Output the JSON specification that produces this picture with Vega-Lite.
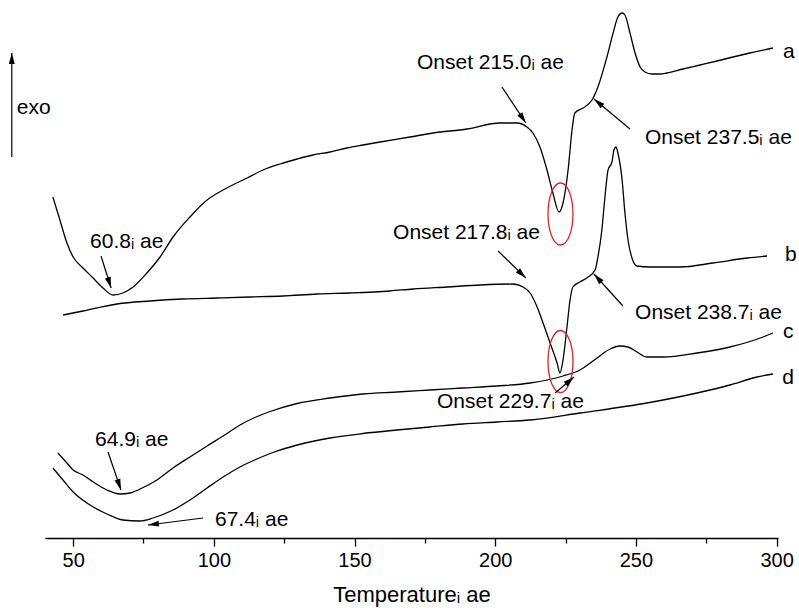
{
  "$schema": "https://vega.github.io/schema/vega-lite/v6.json",
  "width": 733,
  "height": 538,
  "autosize": {"type": "none"},
  "padding": {"left": 45, "right": 21, "top": 0, "bottom": 70},
  "background": "white",
  "config": {"view": {"stroke": null}},
  "datasets": {
    "curves": [
      {"c":"a","T":42.8,"v":341},{"c":"a","T":45.3,"v":318},{"c":"a","T":47.8,"v":295},{"c":"a","T":50.0,"v":281},{"c":"a","T":53.5,"v":270},{"c":"a","T":57.1,"v":260},{"c":"a","T":60.6,"v":250},{"c":"a","T":64.2,"v":243},{"c":"a","T":67.7,"v":245},{"c":"a","T":71.3,"v":251},{"c":"a","T":76.2,"v":265},{"c":"a","T":80.9,"v":281},{"c":"a","T":85.5,"v":301},{"c":"a","T":91.5,"v":321},{"c":"a","T":97.6,"v":338},{"c":"a","T":103.3,"v":348},{"c":"a","T":106.0,"v":352},{"c":"a","T":111.8,"v":360},{"c":"a","T":117.5,"v":368},{"c":"a","T":123.5,"v":374},{"c":"a","T":129.6,"v":379},{"c":"a","T":135.2,"v":383},{"c":"a","T":141.3,"v":386},{"c":"a","T":147.3,"v":390},{"c":"a","T":153.0,"v":393},{"c":"a","T":159.1,"v":396},{"c":"a","T":169.7,"v":401},{"c":"a","T":177.9,"v":405},{"c":"a","T":190.0,"v":409},{"c":"a","T":201.7,"v":415},{"c":"a","T":207.7,"v":415},{"c":"a","T":211.3,"v":411},{"c":"a","T":213.4,"v":405},{"c":"a","T":215.9,"v":391},{"c":"a","T":218.4,"v":368},{"c":"a","T":220.5,"v":345},{"c":"a","T":222.7,"v":326},{"c":"a","T":224.1,"v":335},{"c":"a","T":225.9,"v":368},{"c":"a","T":227.3,"v":408},{"c":"a","T":228.3,"v":425},{"c":"a","T":231.2,"v":430},{"c":"a","T":234.4,"v":438},{"c":"a","T":236.5,"v":451},{"c":"a","T":239.7,"v":481},{"c":"a","T":241.9,"v":505},{"c":"a","T":243.6,"v":521},{"c":"a","T":245.1,"v":525},{"c":"a","T":246.1,"v":523},{"c":"a","T":247.9,"v":505},{"c":"a","T":249.7,"v":485},{"c":"a","T":251.5,"v":471},{"c":"a","T":253.2,"v":466},{"c":"a","T":255.7,"v":464},{"c":"a","T":258.6,"v":464},{"c":"a","T":261.0,"v":465},{"c":"a","T":266.7,"v":469},{"c":"a","T":272.8,"v":473},{"c":"a","T":278.8,"v":477},{"c":"a","T":284.5,"v":481},{"c":"a","T":290.5,"v":485},{"c":"a","T":298.7,"v":490},
      {"c":"b","T":46.4,"v":223},{"c":"b","T":53.5,"v":227},{"c":"b","T":65.6,"v":234},{"c":"b","T":77.3,"v":237},{"c":"b","T":89.0,"v":239},{"c":"b","T":101.1,"v":240},{"c":"b","T":112.9,"v":241},{"c":"b","T":124.6,"v":242},{"c":"b","T":136.7,"v":244},{"c":"b","T":148.4,"v":245},{"c":"b","T":162.6,"v":247},{"c":"b","T":170.8,"v":249},{"c":"b","T":182.9,"v":251},{"c":"b","T":194.6,"v":253},{"c":"b","T":206.3,"v":254},{"c":"b","T":209.9,"v":251},{"c":"b","T":212.4,"v":245},{"c":"b","T":214.9,"v":231},{"c":"b","T":217.0,"v":215},{"c":"b","T":219.5,"v":195},{"c":"b","T":222.0,"v":175},{"c":"b","T":223.0,"v":165},{"c":"b","T":224.1,"v":178},{"c":"b","T":225.5,"v":211},{"c":"b","T":226.6,"v":238},{"c":"b","T":227.6,"v":251},{"c":"b","T":230.1,"v":256},{"c":"b","T":233.0,"v":261},{"c":"b","T":235.5,"v":268},{"c":"b","T":236.5,"v":281},{"c":"b","T":237.9,"v":308},{"c":"b","T":239.0,"v":341},{"c":"b","T":240.1,"v":368},{"c":"b","T":241.5,"v":376},{"c":"b","T":242.2,"v":388},{"c":"b","T":242.9,"v":391},{"c":"b","T":243.6,"v":385},{"c":"b","T":245.1,"v":358},{"c":"b","T":246.1,"v":325},{"c":"b","T":247.2,"v":298},{"c":"b","T":248.6,"v":280},{"c":"b","T":250.4,"v":272},{"c":"b","T":255.0,"v":271},{"c":"b","T":265.7,"v":271},{"c":"b","T":277.4,"v":275},{"c":"b","T":289.5,"v":280},{"c":"b","T":296.6,"v":282},
      {"c":"c","T":44.6,"v":85},{"c":"c","T":47.8,"v":75},{"c":"c","T":50.0,"v":68},{"c":"c","T":53.5,"v":63},{"c":"c","T":57.1,"v":56},{"c":"c","T":62.0,"v":48},{"c":"c","T":66.7,"v":44},{"c":"c","T":70.2,"v":45},{"c":"c","T":73.8,"v":49},{"c":"c","T":79.8,"v":58},{"c":"c","T":85.5,"v":70},{"c":"c","T":91.5,"v":81},{"c":"c","T":97.6,"v":92},{"c":"c","T":103.3,"v":102},{"c":"c","T":109.3,"v":113},{"c":"c","T":114.6,"v":120.5},{"c":"c","T":120.0,"v":126.5},{"c":"c","T":129.6,"v":134.5},{"c":"c","T":141.3,"v":140},{"c":"c","T":153.0,"v":144},{"c":"c","T":165.1,"v":146},{"c":"c","T":176.8,"v":148},{"c":"c","T":188.5,"v":150},{"c":"c","T":200.6,"v":152},{"c":"c","T":212.4,"v":155},{"c":"c","T":224.1,"v":162},{"c":"c","T":230.1,"v":168},{"c":"c","T":236.2,"v":180},{"c":"c","T":240.8,"v":189},{"c":"c","T":244.3,"v":192},{"c":"c","T":247.2,"v":191},{"c":"c","T":250.4,"v":186},{"c":"c","T":253.9,"v":181},{"c":"c","T":259.6,"v":181},{"c":"c","T":271.7,"v":185},{"c":"c","T":283.4,"v":191},{"c":"c","T":295.2,"v":201},{"c":"c","T":298.7,"v":205},
      {"c":"d","T":42.8,"v":70},{"c":"d","T":46.4,"v":58},{"c":"d","T":50.0,"v":46},{"c":"d","T":56.0,"v":33},{"c":"d","T":62.0,"v":24},{"c":"d","T":67.7,"v":18},{"c":"d","T":73.8,"v":17},{"c":"d","T":78.4,"v":20},{"c":"d","T":85.5,"v":28},{"c":"d","T":91.5,"v":38},{"c":"d","T":97.6,"v":50},{"c":"d","T":103.3,"v":61},{"c":"d","T":109.3,"v":71},{"c":"d","T":115.3,"v":79},{"c":"d","T":121.0,"v":85.5},{"c":"d","T":129.6,"v":93},{"c":"d","T":141.3,"v":100},{"c":"d","T":153.0,"v":104.5},{"c":"d","T":165.1,"v":108},{"c":"d","T":176.8,"v":111},{"c":"d","T":188.5,"v":114},{"c":"d","T":200.6,"v":116},{"c":"d","T":212.4,"v":118},{"c":"d","T":230.1,"v":125},{"c":"d","T":253.9,"v":135},{"c":"d","T":271.7,"v":145},{"c":"d","T":283.4,"v":153},{"c":"d","T":293.0,"v":161},{"c":"d","T":298.7,"v":164}
    ],
    "arrows": [
      {"T":59.9,"v":282,"T2":63.5,"v2":250},
      {"T":202.4,"v":451,"T2":210.9,"v2":415},
      {"T":247.9,"v":409,"T2":235.1,"v2":439},
      {"T":201.0,"v":287,"T2":210.9,"v2":260},
      {"T":245.4,"v":232,"T2":235.1,"v2":264},
      {"T":221.3,"v":145,"T2":228.0,"v2":161},
      {"T":62.4,"v":86,"T2":67.0,"v2":48},
      {"T":96.2,"v":20,"T2":76.6,"v2":13},
      {"T":28.2,"v":381,"T2":28.2,"v2":485}
    ],
    "ellipses": [
      {"T":223.2,"v":324},
      {"T":223.2,"v":176.5}
    ],
    "labels": [
      {"t":"Onset 215.0ᵢ ae","T":172.2,"v":475},
      {"t":"Onset 237.5ᵢ ae","T":253.2,"v":400},
      {"t":"Onset 217.8ᵢ ae","T":163.7,"v":305},
      {"t":"Onset 238.7ᵢ ae","T":249.7,"v":225},
      {"t":"Onset 229.7ᵢ ae","T":179.3,"v":136},
      {"t":"60.8ᵢ ae","T":56.0,"v":296},
      {"t":"64.9ᵢ ae","T":57.8,"v":98},
      {"t":"67.4ᵢ ae","T":100.4,"v":18},
      {"t":"a","T":302.3,"v":486},
      {"t":"b","T":303.0,"v":283},
      {"t":"c","T":302.3,"v":206},
      {"t":"d","T":302.0,"v":160},
      {"t":"exo","T":30.0,"v":430}
    ]
  },
  "layer": [
    {
      "data": {"name": "curves"},
      "mark": {"type": "line", "color": "black", "strokeWidth": 1.3, "interpolate": "monotone"},
      "encoding": {
        "x": {"field": "T", "type": "quantitative",
              "scale": {"domain": [40, 300.5], "nice": false, "zero": false},
              "axis": {
                "values": [50,75,100,125,150,175,200,225,250,275,300],
                "labelExpr": "datum.value % 50 === 0 ? datum.label : ''",
                "tickSize": {"condition": {"test": "datum.value % 50 === 0", "value": 8}, "value": 5},
                "tickColor": "black", "tickWidth": 1.3,
                "domainColor": "black", "domainWidth": 1.5,
                "grid": false, "labelFlush": false, "labelOverlap": false,
                "labelFont": "Liberation Sans", "labelFontSize": 20, "labelColor": "black", "labelPadding": 4,
                "title": "Temperatureᵢ ae", "titleFont": "Liberation Sans", "titleFontSize": 22,
                "titleFontWeight": "normal", "titleColor": "black", "titlePadding": 14
              }},
        "y": {"field": "v", "type": "quantitative", "scale": {"domain": [0, 538], "nice": false, "zero": false}, "axis": null},
        "detail": {"field": "c"}
      }
    },
    {
      "data": {"name": "ellipses"},
      "mark": {"type": "point", "filled": false, "color": "#e32228", "strokeWidth": 1.3, "opacity": 1, "size": 3844,
               "shape": "M-0.403,0 A0.403,1 0 1,1 0.403,0 A0.403,1 0 1,1 -0.403,0 Z"},
      "encoding": {
        "x": {"field": "T", "type": "quantitative"},
        "y": {"field": "v", "type": "quantitative"}
      }
    },
    {
      "data": {"name": "arrows"},
      "mark": {"type": "rule", "color": "black", "strokeWidth": 1.2},
      "encoding": {
        "x": {"field": "T", "type": "quantitative"},
        "y": {"field": "v", "type": "quantitative"},
        "x2": {"field": "T2"},
        "y2": {"field": "v2"}
      }
    },
    {
      "data": {"name": "arrows"},
      "transform": [{"calculate": "atan2((datum.T2 - datum.T) * 2.814, datum.v2 - datum.v) * 180 / PI", "as": "ang"}],
      "mark": {"type": "point", "filled": true, "color": "black", "opacity": 1, "size": 100,
               "shape": "M0,0 L-0.6,2.2 L0.6,2.2 Z"},
      "encoding": {
        "x": {"field": "T2", "type": "quantitative"},
        "y": {"field": "v2", "type": "quantitative"},
        "angle": {"field": "ang", "type": "quantitative", "scale": null}
      }
    },
    {
      "data": {"name": "labels"},
      "mark": {"type": "text", "align": "left", "baseline": "middle", "font": "Liberation Sans", "fontSize": 21, "color": "black"},
      "encoding": {
        "x": {"field": "T", "type": "quantitative"},
        "y": {"field": "v", "type": "quantitative"},
        "text": {"field": "t"}
      }
    }
  ]
}
